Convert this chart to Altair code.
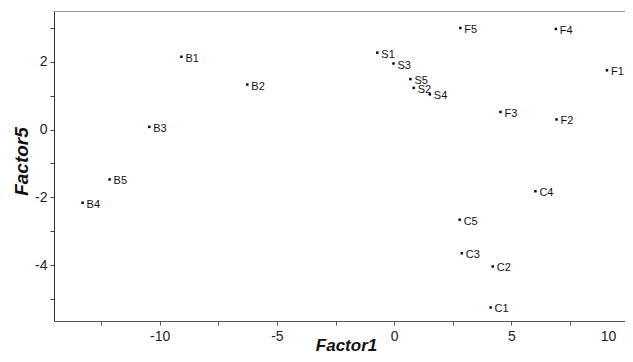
import altair as alt
import pandas as pd

names = ["B1", "B2", "B3", "B4", "B5",
         "S1", "S2", "S3", "S4", "S5",
         "F1", "F2", "F3", "F4", "F5",
         "C1", "C2", "C3", "C4", "C5"]
factor1 = [-9.07, -6.26, -10.44, -13.28, -12.13,
           -0.72, 0.83, -0.03, 1.52, 0.69,
           9.07, 6.92, 4.53, 6.89, 2.82,
           4.11, 4.20, 2.88, 6.02, 2.79]
factor5 = [2.15, 1.33, 0.08, -2.16, -1.47,
           2.27, 1.23, 1.95, 1.04, 1.49,
           1.75, 0.30, 0.52, 2.97, 3.00,
           -5.25, -4.04, -3.65, -1.82, -2.66]

x_ticks = [-12.5, -10, -7.5, -5, -2.5, 0, 2.5, 5, 7.5, 10]
y_ticks = [-5, -4, -3, -2, -1, 0, 1, 2, 3]

df = pd.DataFrame({"name": names, "factor1": factor1, "factor5": factor5})

FONT = "Liberation Sans"
x_scale = alt.Scale(domain=[-14.5, 10], range=[0, 574.8], nice=False, zero=False)
y_scale = alt.Scale(domain=[-5.65, 3.5], nice=False, zero=False)

y_axis = alt.Axis(
    values=y_ticks,
    labelExpr="datum.value % 2 == 0 ? toString(datum.value) : ''",
    title="Factor5", titleFont=FONT, titleFontSize=19, titleFontStyle="italic",
    titleFontWeight="bold", titleColor="#111", titleX=-27, titleY=150,
    titleBaseline="alphabetic", titleAngle=270,
    labelFont=FONT, labelFontSize=14, labelColor="#222", labelPadding=3,
    tickSize=4, tickColor="#444", domainColor="#333", grid=False,
)

x_axis = alt.Axis(
    orient="bottom", values=x_ticks,
    labelExpr="datum.value % 5 == 0 ? toString(datum.value) : ''",
    labelOffset={"condition": {"test": "datum.value == 10", "value": -13}, "value": 0},
    title="Factor1", titleFont=FONT, titleFontSize=17, titleFontStyle="italic",
    titleFontWeight="bold", titleColor="#111", titleX=292, titleY=29,
    titleBaseline="alphabetic",
    labelFont=FONT, labelFontSize=14, labelColor="#222", labelPadding=4,
    tickSize=4, tickColor="#555", domainColor="#555", grid=False,
)

top_axis = alt.Axis(orient="top", labels=False, ticks=False, title=None,
                    domainColor="#999", grid=False)

base = alt.Chart(df)

points = base.mark_square(size=6, color="black", opacity=1).encode(
    x=alt.X("factor1:Q", scale=x_scale, axis=x_axis),
    y=alt.Y("factor5:Q", scale=y_scale, axis=y_axis),
)

labels = base.mark_text(align="left", baseline="middle", dx=4, dy=2,
                        font=FONT, fontSize=11, color="#111").encode(
    x=alt.X("factor1:Q", scale=x_scale, axis=top_axis),
    y=alt.Y("factor5:Q", scale=y_scale, axis=y_axis),
    text="name:N",
)

chart = alt.layer(points, labels).resolve_axis(x="independent").properties(
    width=571, height=310,
    autosize=alt.AutoSizeParams(type="none"),
    padding={"left": 46, "top": 3, "right": 0, "bottom": 33},
).configure_view(stroke=None)

chart.save("out.html", embed_options={"renderer": "svg", "actions": False})
